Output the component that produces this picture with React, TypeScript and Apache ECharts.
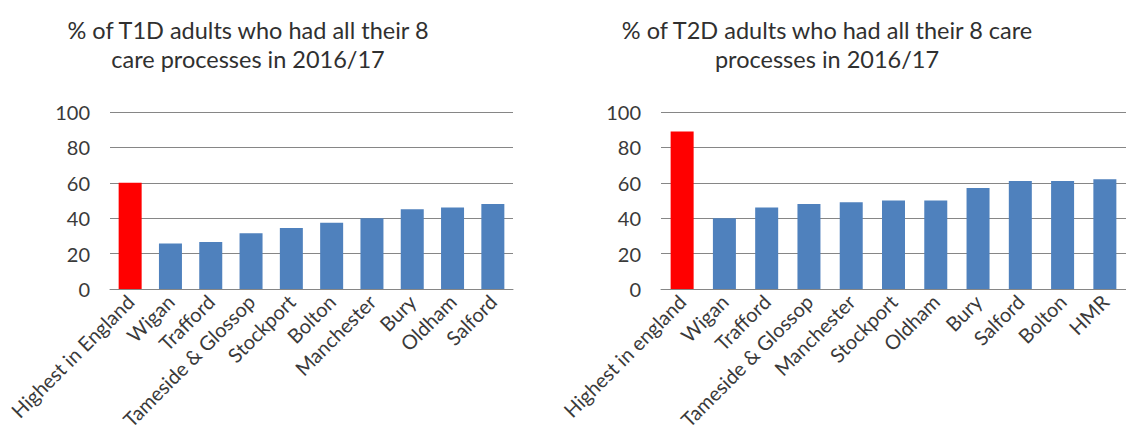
import React, { useEffect, useRef } from "react";
import * as echarts from "echarts";

const t1Categories = ["Highest in England", "Wigan", "Trafford", "Tameside & Glossop", "Stockport", "Bolton", "Manchester", "Bury", "Oldham", "Salford"];
const t1Values = [60, 25.7, 26.5, 31.5, 34.5, 37.5, 40, 45, 46, 48];

const t2Categories = ["Highest in england", "Wigan", "Trafford", "Tameside & Glossop", "Manchester", "Stockport", "Oldham", "Bury", "Salford", "Bolton", "HMR"];
const t2Values = [89, 40, 46, 48, 49, 50, 50, 57, 61, 61, 62];

const t1TitleLines = ["% of T1D adults who had all their 8", "care processes in 2016/17"];
const t2TitleLines = ["% of T2D adults who had all their 8 care", "processes in 2016/17"];

const yTicks = { min: 0, max: 100, interval: 20 };

const BLUE = "#4F81BD";
const RED = "#FF0000";
const GRID = "#868686";
const FONT = "Lato";

export default function App() {
  const ref = useRef<HTMLDivElement>(null);
  useEffect(() => {
    if (!ref.current) return;
    const chart = echarts.init(ref.current, null, { renderer: "svg" });
    const mkData = (vals: number[]) =>
      vals.map((v, i) => (i === 0 ? { value: v, itemStyle: { color: RED } } : { value: v }));
    const xAxis = (idx: number, cats: string[]) => ({
      type: "category",
      gridIndex: idx,
      data: cats,
      axisTick: { show: false },
      axisLine: { show: true, lineStyle: { color: GRID, width: 1 } },
      axisLabel: { rotate: 45, margin: 9, fontSize: 20, color: "#3a3a3a", fontFamily: FONT, interval: 0 },
    });
    const yAxis = (idx: number) => ({
      type: "value",
      gridIndex: idx,
      min: yTicks.min,
      max: yTicks.max,
      interval: yTicks.interval,
      axisLine: { show: false },
      axisTick: { show: false },
      axisLabel: { margin: 20, fontSize: 20, color: "#3a3a3a", fontFamily: FONT },
      splitLine: { show: true, lineStyle: { color: GRID, width: 1 } },
    });
    const titleText = (lines: string[], cx: number) =>
      lines.map((t, i) => ({
        type: "text",
        x: cx,
        y: 30 + i * 28.5,
        style: {
          text: t,
          fill: "#303030",
          font: `23.5px ${FONT}`,
          textAlign: "center",
          textVerticalAlign: "middle",
        },
      }));
    chart.setOption({
      animation: false,
      backgroundColor: "#ffffff",
      grid: [
        { left: 110, top: 112, width: 403, height: 177, containLabel: false },
        { left: 661, top: 112, width: 467, height: 177, containLabel: false },
      ],
      xAxis: [xAxis(0, t1Categories), xAxis(1, t2Categories)],
      yAxis: [yAxis(0), yAxis(1)],
      series: [
        { type: "bar", xAxisIndex: 0, yAxisIndex: 0, data: mkData(t1Values), barWidth: 23, itemStyle: { color: BLUE } },
        { type: "bar", xAxisIndex: 1, yAxisIndex: 1, data: mkData(t2Values), barWidth: 23, itemStyle: { color: BLUE } },
      ],
      graphic: [...titleText(t1TitleLines, 248), ...titleText(t2TitleLines, 827)],
    });
    return () => chart.dispose();
  }, []);
  return <div ref={ref} style={{ position: "fixed", left: 0, top: 0, width: 1126, height: 441 }} />;
}
